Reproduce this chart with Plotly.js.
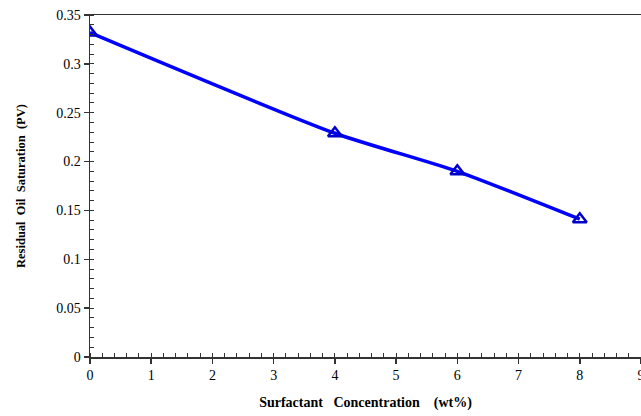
<!DOCTYPE html>
<html>
<head>
<meta charset="utf-8">
<script src="https://cdn.plot.ly/plotly-3.0.1.min.js"></script>
<style>
  html, body { margin: 0; padding: 0; background: #fff; }
  #chart { width: 641px; height: 416px; }
</style>
</head>
<body>
<div id="chart"></div>
<script>
// Residual oil saturation versus surfactant concentration
const concentration = [0, 4, 6, 8];                 // wt%
const residualOil = [0.332, 0.229, 0.190, 0.141];   // PV

const xTickVals = [0, 1, 2, 3, 4, 5, 6, 7, 8, 9];
const yTickVals = [0, 0.05, 0.1, 0.15, 0.2, 0.25, 0.3, 0.35];

const serif = 'Liberation Serif, Times New Roman, serif';

const trace = {
  x: concentration,
  y: residualOil,
  mode: 'lines+markers',
  line: { color: '#0000ff', width: 3.5, shape: 'spline', smoothing: 0.6 },
  marker: {
    symbol: 'triangle-up-open',
    size: 12,
    color: '#0000c8',
    line: { color: '#0000c8', width: 2.5 }
  },
  hoverinfo: 'x+y'
};

const layout = {
  width: 641,
  height: 416,
  margin: { l: 90, r: 0, t: 15, b: 59 },
  paper_bgcolor: '#ffffff',
  plot_bgcolor: '#ffffff',
  showlegend: false,
  font: { family: serif, size: 14, color: '#000' },
  xaxis: {
    range: [0, 9],
    tickvals: xTickVals,
    ticks: 'outside',
    ticklen: 5,
    tickwidth: 1.5,
    tickcolor: '#333',
    ticklabeloverflow: 'allow',
    showline: true,
    linecolor: '#333',
    linewidth: 1.5,
    mirror: true,
    showgrid: false,
    zeroline: false,
    tickfont: { family: serif, size: 14, color: '#000' },
    minor: { dtick: 0.2, ticks: 'inside', ticklen: 4, tickwidth: 1, tickcolor: '#333', showgrid: false },
    title: {
      text: '<b>Surfactant&nbsp;&nbsp; Concentration&nbsp;&nbsp;&nbsp; (wt%)</b>',
      font: { family: serif, size: 14, color: '#000' },
      standoff: 15
    }
  },
  yaxis: {
    range: [0, 0.35],
    tickvals: yTickVals,
    ticks: 'outside',
    ticklen: 5,
    tickwidth: 1.5,
    tickcolor: '#333',
    showline: true,
    linecolor: '#333',
    linewidth: 1.5,
    showgrid: false,
    zeroline: false,
    tickfont: { family: serif, size: 14, color: '#000' },
    minor: { dtick: 0.01, ticks: 'inside', ticklen: 4, tickwidth: 1, tickcolor: '#333', showgrid: false },
    title: {
      text: '<b>Residual&nbsp; Oil&nbsp; Saturation&nbsp; (PV)</b>',
      font: { family: serif, size: 12.5, color: '#000' },
      standoff: 28
    }
  }
};

Plotly.newPlot('chart', [trace], layout, { displayModeBar: false, staticPlot: true });
</script>
</body>
</html>
